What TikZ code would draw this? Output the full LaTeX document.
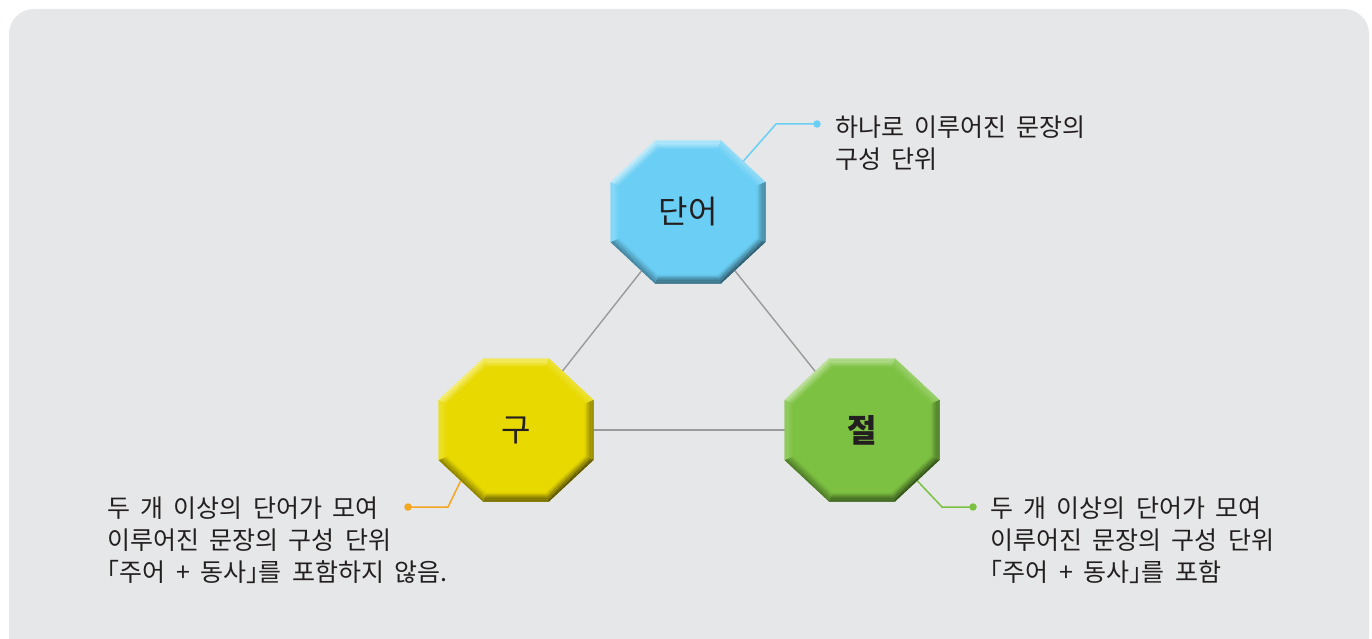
\documentclass[tikz,border=0pt]{standalone}
\usepackage{fontspec}
\newfontfamily\kr{Noto Sans CJK KR}[WordSpace=1.85, RawFeature={+halt}]
\newfontfamily\krlabel{Noto Sans CJK KR}
\usetikzlibrary{calc}
\definecolor{bgpanel}{HTML}{E6E7E8}
\definecolor{txt}{HTML}{231F20}
\definecolor{lineg}{HTML}{9A9A9A}
\definecolor{bbase}{HTML}{6BCFF5}
\definecolor{blight}{HTML}{D2F1FC}
\definecolor{bdark}{HTML}{2A4F5E}
\definecolor{ybase}{HTML}{E8D900}
\definecolor{ylight}{HTML}{F8F18A}
\definecolor{ydark}{HTML}{4A4300}
\definecolor{gbase}{HTML}{7DC142}
\definecolor{glight}{HTML}{C8E8AC}
\definecolor{gdark}{HTML}{2C4716}
\definecolor{cblue}{HTML}{6ACFF5}
\definecolor{corange}{HTML}{F5A51E}
\definecolor{cgreen}{HTML}{7DC142}
\pgfdeclarelayer{panel}\pgfdeclarelayer{links}
\pgfsetlayers{panel,links,main}
\tikzset{
  desc/.style={font=\kr\fontsize{25}{32}\selectfont, text=txt, align=left, inner sep=0pt},
  octlabel/.style={font=\krlabel\fontsize{32}{36}\selectfont, text=txt, minimum width=155pt, minimum height=143pt, inner sep=0pt},
  link/.style={draw=lineg, line width=1.4pt},
  callout/.style={line width=1.5pt},
  dot/.style={circle, inner sep=0pt, minimum size=7.5pt},
}
% #1 name, #2 x, #3 y, #4 base, #5 light, #6 dark, #7 label
\newcommand\octshape[7]{%
 \begin{scope}[shift={(#2,#3)}]
  \coordinate (#1-o1) at (-33,-71.5);
  \coordinate (#1-o2) at (33,-71.5);
  \coordinate (#1-o3) at (77.5,-30);
  \coordinate (#1-o4) at (77.5,30);
  \coordinate (#1-o5) at (33,71.5);
  \coordinate (#1-o6) at (-33,71.5);
  \coordinate (#1-o7) at (-77.5,30);
  \coordinate (#1-o8) at (-77.5,-30);
  \coordinate (#1-i1) at (-29.5,-62.5);
  \coordinate (#1-i2) at (29.5,-62.5);
  \coordinate (#1-i3) at (68.5,-26.1);
  \coordinate (#1-i4) at (68.5,26.1);
  \coordinate (#1-i5) at (29.5,62.5);
  \coordinate (#1-i6) at (-29.5,62.5);
  \coordinate (#1-i7) at (-68.5,26.1);
  \coordinate (#1-i8) at (-68.5,-26.1);
  \fill[#4] (#1-o1) -- (#1-o2) -- (#1-o3) -- (#1-o4) -- (#1-o5) -- (#1-o6) -- (#1-o7) -- (#1-o8) -- cycle;
  \colorlet{ec1}{#5}
  \colorlet{ec2}{#5!45!#4}
  \colorlet{ec3}{#6!70!#4}
  \colorlet{ec4}{#6}
  \colorlet{ec5}{#6}
  \colorlet{ec6}{#6!65!#4}
  \colorlet{ec7}{#5!40!#4}
  \colorlet{ec8}{#5}
  \foreach \ea/\eb/\ecol in {1/2/ec1,2/3/ec2,3/4/ec3,4/5/ec4,5/6/ec5,6/7/ec6,7/8/ec7,8/1/ec8}{
    \foreach \k in {0,...,9}{
      \pgfmathsetmacro\ta{\k/10}
      \pgfmathsetmacro\tb{(\k+1.08)/10}
      \pgfmathtruncatemacro\pc{95-10*\k}
      \fill[\ecol!\pc!#4] ($(#1-o\ea)!\ta!(#1-i\ea)$) -- ($(#1-o\eb)!\ta!(#1-i\eb)$) -- ($(#1-o\eb)!\tb!(#1-i\eb)$) -- ($(#1-o\ea)!\tb!(#1-i\ea)$) -- cycle;
    }}
  \node[octlabel] (#1) at (0,0) {#7};
 \end{scope}}

\begin{document}
\begin{tikzpicture}[x=1pt,y=-1pt]
\useasboundingbox (0,0) rectangle (1372,639);
\begin{pgfonlayer}{panel}
\begin{scope}
\clip (0,0) rectangle (1372,639);
\fill[white] (0,0) rectangle (1372,639);
\fill[bgpanel, rounded corners=25pt] (9,9) rectangle (1369,662);
\end{scope}
\end{pgfonlayer}

\octshape{dan}{688}{212}{bbase}{blight}{bdark}{단어}
\octshape{gu}{516}{430}{ybase}{ylight}{ydark}{구}
\octshape{jeol}{862}{430}{gbase}{glight}{gdark}{\bfseries 절}

\node[desc, anchor=north west] (tdan) at (835,116) {하나로 이루어진 문장의\\구성 단위};
\node[desc, anchor=north west] (tgu) at (107,497) {두 개 이상의 단어가 모여\\이루어진 문장의 구성 단위\\「주어 + 동사」를 포함하지 않음.};
\node[desc, anchor=north west] (tjeol) at (990,497) {두 개 이상의 단어가 모여\\이루어진 문장의 구성 단위\\「주어 + 동사」를 포함};

\node[dot, fill=cblue] (bdot) at (817,124) {};
\node[dot, fill=corange] (odot) at (408,507) {};
\node[dot, fill=cgreen] (gdot) at (973,507) {};
\coordinate (belb) at (776,124);
\coordinate (oelb) at (448,507);
\coordinate (gelb) at (942,507);

\begin{pgfonlayer}{links}
\draw[link] (dan.center) -- (gu.center);
\draw[link] (dan.center) -- (jeol.center);
\draw[link] (gu.center) -- (jeol.center);
\draw[callout, draw=cblue] ($(dan-o2)!0.5!(dan-o3)$) -- (belb) -- (bdot.center);
\draw[callout, draw=corange] ($(gu-o6)!0.5!(gu-o7)$) -- (oelb) -- (odot.center);
\draw[callout, draw=cgreen] ($(jeol-o4)!0.5!(jeol-o5)$) -- (gelb) -- (gdot.center);
\end{pgfonlayer}
\end{tikzpicture}
\end{document}
